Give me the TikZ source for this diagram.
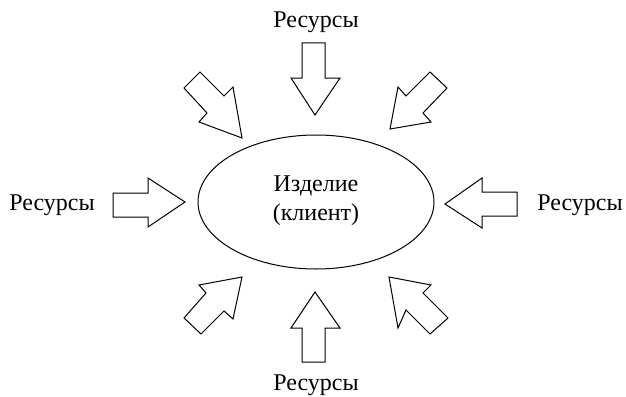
\documentclass[tikz,border=0pt]{standalone}
\usepackage{fontspec}
\setmainfont{Liberation Serif}
\begin{document}
\begin{tikzpicture}[x=1pt,y=-1pt,
  resarrow/.style={draw=black,line width=1pt,fill=white,line join=miter},
  lbl/.style={font=\fontsize{24}{28}\selectfont,inner sep=0pt,anchor=base},
  prodtext/.style={align=center,font=\fontsize{24}{29}\selectfont,inner sep=0pt}]
\useasboundingbox (0,0) rectangle (626,396);
% product
\draw[line width=1pt] (316,202) ellipse [x radius=118, y radius=67];
\node[prodtext] (prod) at (316,201) {Изделие\\(клиент)};
% labels
\node[lbl] (rtop) at (316,28) {Ресурсы};
\node[lbl] (rbot) at (316,390) {Ресурсы};
\node[lbl] (rleft) at (52,210) {Ресурсы};
\node[lbl] (rright) at (580,210) {Ресурсы};
% straight arrows
\draw[resarrow] (302,43) -- (325,43) -- (325,78) -- (340,78) -- (315,115) -- (291,78) -- (302,78) -- cycle;
\draw[resarrow] (302,362) -- (325,362) -- (325,328) -- (340,328) -- (315,292) -- (291,328) -- (302,328) -- cycle;
\draw[resarrow] (113,193) -- (148,193) -- (148,178) -- (185,202) -- (148,227) -- (148,217) -- (113,217) -- cycle;
\draw[resarrow] (517,192) -- (482,192) -- (482,178) -- (445,204) -- (482,228) -- (482,216) -- (517,216) -- cycle;
% diagonal arrows
\draw[resarrow] (200,72) -- (224,96) -- (233,87) -- (242,138) -- (199,122) -- (207,113) -- (184,88) -- cycle;
\draw[resarrow] (430,72) -- (406,96) -- (398,87) -- (390,129) -- (431,122) -- (423,113) -- (447,88) -- cycle;
\draw[resarrow] (448,318) -- (423,293) -- (431,285) -- (389,277) -- (398,328) -- (406,310) -- (430,334) -- cycle;
\draw[resarrow] (184,318) -- (206,293) -- (199,285) -- (242,277) -- (233,319) -- (224,311) -- (201,334) -- cycle;
\end{tikzpicture}
\end{document}
